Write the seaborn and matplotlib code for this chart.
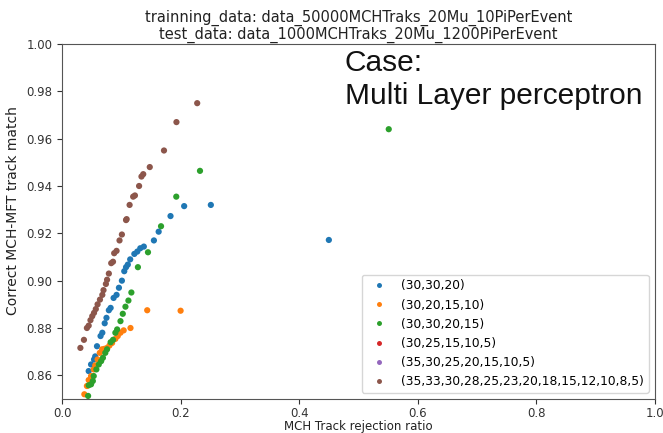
import numpy as np
import pandas as pd
import matplotlib
matplotlib.use("Agg")
import matplotlib.pyplot as plt
import seaborn as sns

labels = ["(30,30,20)", "(30,20,15,10)", "(30,30,20,15)", "(30,25,15,10,5)",
          "(35,30,25,20,15,10,5)", "(35,33,30,28,25,23,20,18,15,12,10,8,5)"]

blue_x = [0.450, 0.251, 0.206, 0.183, 0.163, 0.155, 0.138, 0.132, 0.127, 0.122, 0.115, 0.111,
          0.108, 0.105, 0.101, 0.096, 0.092, 0.087, 0.082, 0.079, 0.075, 0.072, 0.068,
          0.065, 0.059, 0.056, 0.054, 0.049, 0.045]
blue_y = [0.9172, 0.932, 0.9315, 0.9273, 0.9207, 0.917, 0.9144, 0.9137, 0.9123, 0.9113, 0.909,
          0.9068, 0.9057, 0.904, 0.900, 0.897, 0.894, 0.8927, 0.8885, 0.8875, 0.8843, 0.882,
          0.878, 0.8766, 0.8723, 0.868, 0.8667, 0.8646, 0.8618]

orange_x = [0.200, 0.1437, 0.1155, 0.104, 0.0986, 0.094, 0.090, 0.0845, 0.080, 0.076, 0.0716,
            0.0676, 0.0637, 0.060, 0.056, 0.0535, 0.049, 0.045, 0.042, 0.0377]
orange_y = [0.8873, 0.8875, 0.880, 0.879, 0.878, 0.8766, 0.8754, 0.8737, 0.8726, 0.8716, 0.8712,
            0.871, 0.8695, 0.8667, 0.8642, 0.8625, 0.8597, 0.858, 0.8555, 0.852]

green_x = [0.551, 0.2327, 0.1927, 0.167, 0.145, 0.128, 0.117, 0.112, 0.107, 0.1025, 0.0986,
           0.093, 0.090, 0.086, 0.082, 0.076, 0.073, 0.069, 0.066, 0.062, 0.058, 0.0535,
           0.052, 0.049, 0.045, 0.044]
green_y = [0.964, 0.9464, 0.9355, 0.923, 0.912, 0.9057, 0.895, 0.8916, 0.889, 0.886, 0.8829,
           0.8794, 0.878, 0.875, 0.874, 0.871, 0.8695, 0.8674, 0.866, 0.8646, 0.8625, 0.8597,
           0.8576, 0.8562, 0.8558, 0.8513]

red_x, red_y = [], []
purple_x, purple_y = [], []

brown_x = [0.228, 0.193, 0.172, 0.148, 0.137, 0.134, 0.130, 0.123, 0.120, 0.114, 0.109, 0.108,
           0.101, 0.097, 0.092, 0.088, 0.086, 0.083, 0.079, 0.076, 0.074, 0.070, 0.068,
           0.064, 0.060, 0.057, 0.054, 0.051, 0.048, 0.045, 0.042, 0.037, 0.031]
brown_y = [0.975, 0.967, 0.955, 0.948, 0.945, 0.944, 0.940, 0.936, 0.9355, 0.932, 0.926, 0.9256,
           0.9195, 0.917, 0.9126, 0.9116, 0.908, 0.9074, 0.903, 0.9004, 0.8986, 0.896, 0.894,
           0.892, 0.890, 0.888, 0.8864, 0.885, 0.8833, 0.881, 0.880, 0.875, 0.8716]

xs = [blue_x, orange_x, green_x, red_x, purple_x, brown_x]
ys = [blue_y, orange_y, green_y, red_y, purple_y, brown_y]

rows = []
for lab, xv, yv in zip(labels, xs, ys):
    for a, b in zip(xv, yv):
        rows.append((a, b, lab))
df = pd.DataFrame(rows, columns=["x", "y", "config"])

palette = dict(zip(labels, sns.color_palette("tab10", 6)))

fig = plt.figure(figsize=(6.63, 4.33), dpi=100)
ax = fig.add_axes([62/663, 1-399/433, 593/663, 355/433])

sns.scatterplot(data=df, x="x", y="y", hue="config", hue_order=labels, palette=palette,
                s=20, linewidth=0, ax=ax, legend=True)

ax.set_xlim(0, 1.0)
ax.set_ylim(0.85, 1.0)
ax.set_xticks(np.arange(0, 1.01, 0.2))
ax.set_yticks(np.arange(0.86, 1.001, 0.02))
ax.set_xticklabels([f"{v:.1f}" for v in np.arange(0, 1.01, 0.2)])
ax.set_yticklabels([f"{v:.2f}" for v in np.arange(0.86, 1.001, 0.02)])
ax.tick_params(labelsize=8.5, colors="#333333")
ax.tick_params(axis="x", pad=2.5)
for sp in ax.spines.values():
    sp.set_color("#555555")

ax.set_xlabel("MCH Track rejection ratio", fontsize=8.5, labelpad=0, color="#222222")
ax.set_ylabel("Correct MCH-MFT track match", fontsize=10, color="#222222")
ax.yaxis.set_label_coords(-0.070, 0.53)
ax.set_title("trainning_data: data_50000MCHTraks_20Mu_10PiPerEvent\n"
             "test_data: data_1000MCHTraks_20Mu_1200PiPerEvent", fontsize=10.5, pad=4,
             linespacing=1.05, color="#222222")

ax.text(0.477, 0.985, "Case:\nMulti Layer perceptron", transform=ax.transAxes,
        ha="left", va="top", fontsize=21.5, family="Liberation Sans", linespacing=1.22,
        color="#111111")

leg = ax.legend(loc="lower right", fontsize=8.8, markerscale=0.8, frameon=True,
                borderpad=0.4, labelspacing=0.5, handletextpad=0.8)
leg.set_title(None)

fig.savefig("out.png", dpi=100)
